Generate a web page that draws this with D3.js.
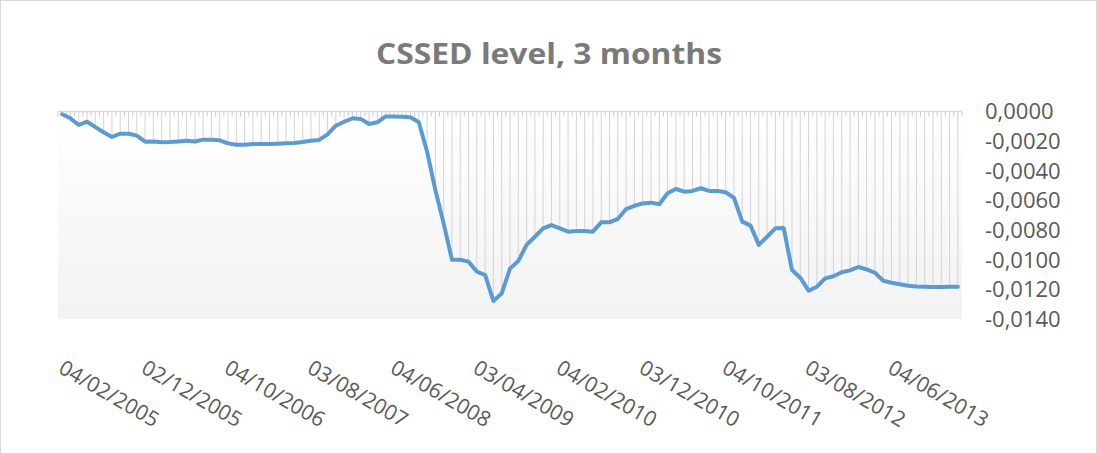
<!DOCTYPE html>
<html>
<head>
<meta charset="utf-8">
<script src="https://cdn.jsdelivr.net/npm/d3@7"></script>
<style>
    body { margin: 0; background: #fff; }
    svg { display: block; }
</style>
</head>
<body>
<svg id="chart"></svg>
<script>
// Chart title
const chartTitle = 'CSSED level, 3 months';

// Monthly CSSED level, 109 observations (Feb 2005 onward)
const cssedValues = [
    -0.00019, -0.00046, -0.00091, -0.00069, -0.00105, -0.00140, -0.00172, -0.00150, -0.00150, -0.00163,
    -0.00204, -0.00202, -0.00208, -0.00206, -0.00202, -0.00197, -0.00202, -0.00190, -0.00190, -0.00194,
    -0.00215, -0.00224, -0.00224, -0.00220, -0.00220, -0.00220, -0.00218, -0.00215, -0.00212, -0.00206,
    -0.00197, -0.00192, -0.00154, -0.00096, -0.00069, -0.00046, -0.00050, -0.00084, -0.00073, -0.00033,
    -0.00033, -0.00035, -0.00039, -0.00073, -0.00270, -0.00530, -0.00755, -0.01000, -0.01000, -0.01013,
    -0.01080, -0.01103, -0.01279, -0.01227, -0.01060, -0.01009, -0.00900, -0.00845, -0.00788, -0.00766,
    -0.00788, -0.00811, -0.00806, -0.00806, -0.00811, -0.00748, -0.00748, -0.00725, -0.00658, -0.00636,
    -0.00620, -0.00615, -0.00626, -0.00552, -0.00523, -0.00541, -0.00536, -0.00518, -0.00536, -0.00536,
    -0.00545, -0.00582, -0.00743, -0.00770, -0.00900, -0.00845, -0.00788, -0.00786, -0.01070, -0.01121,
    -0.01209, -0.01182, -0.01126, -0.01112, -0.01085, -0.01072, -0.01049, -0.01065, -0.01088, -0.01142,
    -0.01155, -0.01166, -0.01175, -0.01180, -0.01182, -0.01184, -0.01184, -0.01182, -0.01182
];

// Category labels shown every 10 months
const dateLabels = [
    '04/02/2005', '02/12/2005', '04/10/2006', '03/08/2007', '04/06/2008', '03/04/2009',
    '04/02/2010', '03/12/2010', '04/10/2011', '03/08/2012', '04/06/2013'
];
const labelStep = 10;

// Y axis ticks
const yTicks = [0, -0.002, -0.004, -0.006, -0.008, -0.010, -0.012, -0.014];

function drawChart() {
    const width = 1097;
    const height = 454;
    const plot = { left: 58, right: 962, top: 111.5, bottom: 319 };
    const font = '"Open Sans", "Liberation Sans", sans-serif';

    const svg = d3.select('#chart')
        .attr('width', width)
        .attr('height', height);

    svg.append('rect')
        .attr('x', 0.5).attr('y', 0.5)
        .attr('width', width - 1).attr('height', height - 1)
        .attr('fill', '#fff')
        .attr('stroke', '#d9d9d9');

    // Scales
    const xScale = d3.scaleBand()
        .domain(d3.range(cssedValues.length))
        .range([plot.left, plot.right]);
    const xCenter = i => xScale(i) + xScale.bandwidth() / 2;

    const yScale = d3.scaleLinear()
        .domain([0, -0.014])
        .range([plot.top, plot.bottom]);

    // Plot area gradient
    const defs = svg.append('defs');
    const grad = defs.append('linearGradient')
        .attr('id', 'plot-grad')
        .attr('x1', 0).attr('y1', 0)
        .attr('x2', 0).attr('y2', 1);
    grad.append('stop').attr('offset', '0%').attr('stop-color', '#ffffff');
    grad.append('stop').attr('offset', '100%').attr('stop-color', '#f2f2f2');

    svg.append('rect')
        .attr('x', plot.left)
        .attr('y', plot.top)
        .attr('width', plot.right - plot.left)
        .attr('height', plot.bottom - plot.top)
        .attr('fill', 'url(#plot-grad)');

    // Drop lines from each point up to the zero axis
    svg.append('g')
        .selectAll('line')
        .data(cssedValues)
        .enter()
        .append('line')
        .attr('x1', (d, i) => xCenter(i))
        .attr('x2', (d, i) => xCenter(i))
        .attr('y1', yScale(0))
        .attr('y2', d => yScale(d))
        .attr('stroke', '#d4d4d4')
        .attr('stroke-width', 1);

    // Category axis at zero with tick marks between categories
    const ticks = d3.range(cssedValues.length + 1);
    svg.append('g')
        .selectAll('line')
        .data(ticks)
        .enter()
        .append('line')
        .attr('x1', i => i < cssedValues.length ? xScale(i) : plot.right)
        .attr('x2', i => i < cssedValues.length ? xScale(i) : plot.right)
        .attr('y1', yScale(0))
        .attr('y2', yScale(0) + 5)
        .attr('stroke', '#cccccc')
        .attr('stroke-width', 1);

    svg.append('line')
        .attr('x1', plot.left)
        .attr('x2', plot.right)
        .attr('y1', yScale(0))
        .attr('y2', yScale(0))
        .attr('stroke', '#d9d9d9')
        .attr('stroke-width', 1.5);

    // Series line
    const line = d3.line()
        .x((d, i) => xCenter(i))
        .y(d => yScale(d));

    svg.append('path')
        .datum(cssedValues)
        .attr('d', line)
        .attr('fill', 'none')
        .attr('stroke', '#5b9bd5')
        .attr('stroke-width', 4)
        .attr('stroke-linejoin', 'round')
        .attr('stroke-linecap', 'round');

    // Y axis labels on the right
    const fmt = v => {
        const s = Math.abs(v).toFixed(4).replace('.', ',');
        return (v < -1e-9 ? '-' : '') + s;
    };
    svg.append('g')
        .selectAll('text')
        .data(yTicks)
        .enter()
        .append('text')
        .attr('x', 985)
        .attr('y', d => yScale(d))
        .attr('dy', '0.36em')
        .attr('font-family', font)
        .attr('font-size', '22px')
        .attr('fill', '#595959')
        .text(fmt);

    // Rotated date labels
    svg.append('g')
        .selectAll('text')
        .data(dateLabels)
        .enter()
        .append('text')
        .attr('transform', (d, k) => `translate(${xCenter(k * labelStep) - 5}, 372) rotate(30)`)
        .attr('font-family', font)
        .attr('font-size', '21px')
        .attr('fill', '#595959')
        .text(d => d);

    // Title
    svg.append('text')
        .attr('x', 549)
        .attr('y', 64)
        .attr('text-anchor', 'middle')
        .attr('font-family', font)
        .attr('font-size', '28px')
        .attr('font-weight', 'bold')
        .attr('fill', '#7a7a7a')
        .attr('textLength', 346)
        .attr('lengthAdjust', 'spacingAndGlyphs')
        .text(chartTitle);
}

drawChart();
</script>
</body>
</html>
